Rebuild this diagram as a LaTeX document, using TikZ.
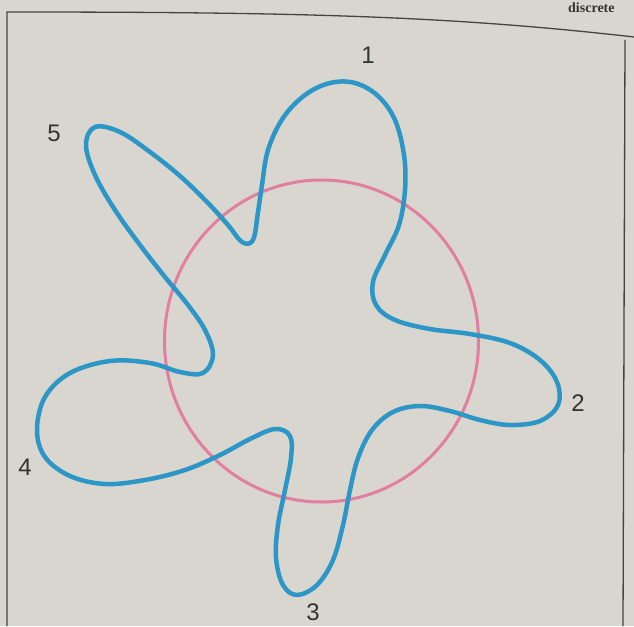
\documentclass[tikz,border=0pt]{standalone}
\usepackage{fontspec}
\setmainfont{Liberation Sans}
\newfontfamily\pageserif{Liberation Serif}
\definecolor{paper}{HTML}{D9D6CF}
\definecolor{curveblue}{HTML}{2C96C6}
\definecolor{ringpink}{HTML}{E27E9F}
\definecolor{framegray}{HTML}{4A4242}
\definecolor{labelgray}{HTML}{333333}
\begin{document}
\begin{tikzpicture}[x=1pt,y=-1pt,
  lbl/.style={font=\fontsize{24}{24}\selectfont, text=labelgray, inner sep=0pt},
  framestyle/.style={draw=framegray, line width=1.3pt},
  wavy/.style={draw=curveblue, line width=4.5pt, line join=round},
  ring/.style={draw=ringpink, line width=3pt}]
\fill[paper] (0,0) rectangle (634,626);
\useasboundingbox (0,0) rectangle (634,626);
\clip (0,0) rectangle (634,626);
% page fragment and frame
\node[anchor=base west, inner sep=0pt, font=\pageserif\bfseries\fontsize{14}{14}\selectfont, text=labelgray] (pagetxt) at (568,13) {discrete};
\draw[framestyle] (7,626) -- (7,12) .. controls (300,12) and (450,16) .. (634,37);
\draw[framestyle] (625,40) -- (623,626);
% circle
\draw[ring] (321.5,341) ellipse [x radius=157pt, y radius=161pt];
% wavy closed curve
\draw[wavy] plot[smooth cycle, tension=0.6] coordinates {
 (262,185) (268,150) (283,118) (305,95) (330,83) (355,83) (378,96)
 (395,120) (404,155) (405,190) (399,225) (385,255) (373,282) (376,305)
 (395,320) (430,329) (470,334) (510,343) (540,360) (557,382) (558,405)
 (540,421) (510,425) (480,420) (450,411) (420,406) (393,412) (372,430)
 (358,458) (350,490) (343,525) (333,560) (317,585) (297,595) (283,585)
 (276,558) (278,525) (285,490) (291,458) (290,436) (275,429) (250,439)
 (220,455) (185,470) (145,480) (105,484) (70,476) (45,457) (37,430)
 (45,397) (70,373) (110,361) (150,363) (180,372) (203,373) (213,355)
 (205,330) (188,305) (165,277) (140,245) (115,210) (95,175) (86,145)
 (95,127) (120,132) (150,152) (180,176) (207,202) (228,225) (242,242)
 (253,240) (258,212)};
% labels
\node[lbl] (n1) at (368,55) {1};
\node[lbl] (n2) at (578,403) {2};
\node[lbl] (n3) at (313,612) {3};
\node[lbl] (n4) at (25,467) {4};
\node[lbl] (n5) at (54,133) {5};
\end{tikzpicture}
\end{document}
